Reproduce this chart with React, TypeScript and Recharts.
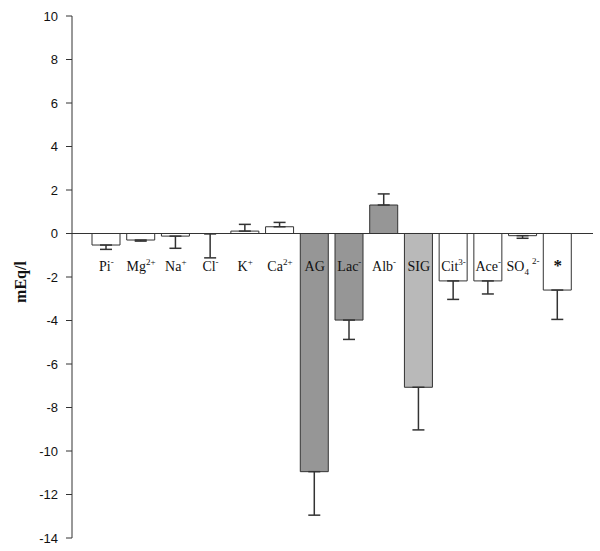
import React from "react";
import {
  BarChart,
  Bar,
  XAxis,
  YAxis,
  Cell,
  ErrorBar,
  ReferenceLine,
  ReferenceDot,
} from "recharts";

const categories = ["Pi", "Mg", "Na", "Cl", "K", "Ca", "AG", "Lac", "Alb", "SIG", "Cit", "Ace", "SO4", "*"];
const values = [-0.53, -0.3, -0.12, -0.02, 0.11, 0.31, -10.95, -3.98, 1.31, -7.07, -2.18, -2.18, -0.1, -2.6];
const errors = [0.2, 0.05, 0.56, 1.1, 0.31, 0.2, 2.0, 0.89, 0.51, 1.96, 0.85, 0.6, 0.12, 1.35];
const labelBase = ["Pi", "Mg", "Na", "Cl", "K", "Ca", "AG", "Lac", "Alb", "SIG", "Cit", "Ace", "SO", "*"];
const labelSup = ["-", "2+", "+", "-", "+", "2+", "", "-", "-", "", "3-", "-", "2-", ""];
const labelSub = ["", "", "", "", "", "", "", "", "", "", "", "", "4", ""];
const fills = ["#ffffff", "#ffffff", "#ffffff", "#ffffff", "#ffffff", "#ffffff", "#969696", "#969696", "#969696", "#b9b9b9", "#ffffff", "#ffffff", "#ffffff", "#ffffff"];
const yTicks = [-14, -12, -10, -8, -6, -4, -2, 0, 2, 4, 6, 8, 10];
const LABEL_Y = -1.72;

const data = categories.map((c, i) => ({
  name: c,
  value: values[i],
  err: values[i] <= 0 ? [errors[i], 0] : [0, errors[i]],
}));

const SERIF = "'Liberation Serif', 'Times New Roman', serif";

function CatLabel(props: any) {
  const { cx, cy, idx } = props;
  const base = labelBase[idx];
  const sup = labelSup[idx];
  const sub = labelSub[idx];
  const isStar = base === "*";
  return (
    <text
      x={cx}
      y={cy}
      textAnchor="middle"
      fontFamily={SERIF}
      fontSize={isStar ? 17 : 14}
      fontWeight={isStar ? "bold" : "normal"}
      fill="#111"
    >
      <tspan>{base}</tspan>
      {sub ? (
        <tspan fontSize={9} dy={4}>
          {sub}
        </tspan>
      ) : null}
      {sup ? (
        <tspan fontSize={9} dy={sub ? -11 : -6} dx={sub ? 3 : 0}>
          {sup}
        </tspan>
      ) : null}
    </text>
  );
}

export default function App() {
  return (
    <div style={{ position: "absolute", left: 0, top: 0, background: "#fff" }}>
      <BarChart
        width={600}
        height={551}
        data={data}
        margin={{ top: 16, right: 7, bottom: 13, left: 12 }}
      >
        <XAxis dataKey="name" hide padding={{ left: 17, right: 18 }} />
        <YAxis
          type="number"
          domain={[-14, 10]}
          ticks={yTicks}
          interval={0}
          width={60}
          tickSize={6}
          tickMargin={8}
          stroke="#333"
          tick={{ fill: "#111", fontSize: 13, fontFamily: "'Liberation Sans', Arial, sans-serif" }}
          label={(p: any) => {
            const vb = p.viewBox;
            const cx = 20;
            const cy = vb.y + vb.height / 2 + 5;
            return (
              <text
                x={cx}
                y={cy}
                transform={`rotate(-90, ${cx}, ${cy})`}
                textAnchor="middle"
                dominantBaseline="central"
                fontFamily={SERIF}
                fontWeight="bold"
                fontSize={16}
                fill="#111"
              >
                mEq/l
              </text>
            );
          }}
        />
        <Bar dataKey="value" barSize={28} stroke="#333" strokeWidth={1} isAnimationActive={false}>
          {data.map((d, i) => (
            <Cell
              key={d.name}
              fill={fills[i]}
              stroke={Math.abs(d.value) < 0.05 ? "none" : "#333"}
            />
          ))}
          <ErrorBar dataKey="err" width={6} stroke="#333" strokeWidth={1.5} direction="y" />
        </Bar>
        <ReferenceLine y={0} stroke="#333" strokeWidth={1} />
        {categories.map((c, i) => (
          <ReferenceDot
            key={c}
            x={c}
            y={LABEL_Y}
            r={1}
            ifOverflow="visible"
            shape={(p: any) => <CatLabel cx={p.cx} cy={p.cy} idx={i} />}
          />
        ))}
      </BarChart>
    </div>
  );
}
